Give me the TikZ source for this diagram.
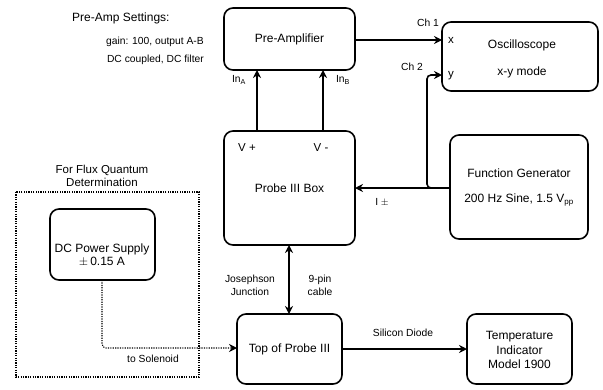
\documentclass[tikz,border=0pt]{standalone}
\usepackage{fontspec}
\setmainfont{Liberation Sans}
\usetikzlibrary{arrows.meta}
\begin{document}
\begin{tikzpicture}[x=1pt,y=-1pt,
  box/.style={draw,line width=1.6pt,rounded corners=9pt},
  conn/.style={line width=1.6pt,-{Stealth[length=8pt,width=8pt]}},
  dots/.style={line width=1.1pt,dash pattern=on 1.2pt off 1.2pt},
  lbl/.style={font=\fontsize{10.3}{13}\selectfont,align=center,inner sep=0pt},
  txt/.style={font=\fontsize{12}{14}\selectfont,align=center,inner sep=0pt}]
\useasboundingbox (0,0) rectangle (603,389);
% boxes
\draw[box] (224,8) rectangle (355,70);
\node[txt] (pre) at (289.5,39) {Pre-Amplifier};
\coordinate (preA) at (257,70);
\coordinate (preB) at (323,70);
\draw[box] (442,22) rectangle (598,91);
\node[txt] (osc1) at (522,45) {Oscilloscope};
\node[txt] (osc2) at (522,72) {x-y mode};
\coordinate (oscX) at (442,40);
\coordinate (oscY) at (442,75);
\node[lbl,font=\fontsize{11.5}{13}\selectfont] (xl) at (451,40) {x};
\node[lbl,font=\fontsize{11.5}{13}\selectfont] (yl) at (451,76) {y};
\draw[box] (224,131) rectangle (355,245);
\node[txt] (pb) at (289.5,188) {Probe III Box};
\node[lbl,font=\fontsize{11.5}{13}\selectfont] (vp) at (247,148) {V +};
\node[lbl,font=\fontsize{11.5}{13}\selectfont] (vm) at (321,148) {V -};
\draw[box] (450,135) rectangle (588,239);
\node[txt] (fg1) at (519,173) {Function Generator};
\node[txt] (fg2) at (519,200) {200 Hz Sine, 1.5 V\textsubscript{pp}};
\draw[dots] (16,192) rectangle (199,377);
\node[txt,font=\fontsize{11.5}{13.5}\selectfont] (flux) at (102,176) {For Flux Quantum\\Determination};
\draw[box] (50,209) rectangle (155,280);
\node[txt,font=\fontsize{12}{13.5}\selectfont] (dc) at (102,255) {DC Power Supply\\$\pm$\,0.15 A};
\draw[box] (237,314) rectangle (342,384);
\node[txt] (top) at (289.5,349) {Top of Probe III};
\draw[box] (467,314) rectangle (572,384);
\node[txt,font=\fontsize{12}{14.5}\selectfont] (ti) at (519.5,350) {Temperature\\Indicator\\Model 1900};
% free text
\node[font=\fontsize{12}{14}\selectfont,anchor=west,inner sep=0pt] (pas) at (72,18) {Pre-Amp Settings:};
\node[lbl,anchor=east] (g) at (204,42) {gain: 100, output A-B};
\node[lbl,anchor=east] (dcc) at (204,60) {DC coupled, DC filter};
% connectors
\draw[conn] (355,40) -- (oscX);
\node[lbl] (ch1) at (428,23) {Ch 1};
\draw[conn,rounded corners=4pt] (450,188) -- (427,188) -- (427,75) -- (oscY);
\node[lbl] (ch2) at (412,67) {Ch 2};
\draw[conn] (450,188) -- (355,188);
\node[lbl] (ipm) at (382,202) {I $\pm$};
\draw[conn] (257,131) -- (preA);
\draw[conn] (323,131) -- (preB);
\node[lbl] (ina) at (239,80) {In\textsubscript{A}};
\node[lbl] (inb) at (343,80) {In\textsubscript{B}};
\draw[line width=1.6pt,{Stealth[length=8pt,width=8pt]}-{Stealth[length=8pt,width=8pt]}] (289,245) -- (289,314);
\node[lbl] (jj) at (250,285) {Josephson\\Junction};
\node[lbl] (pin) at (320,285) {9-pin\\cable};
\draw[dots,rounded corners=4pt,-{Stealth[length=8pt,width=8pt]}] (102,280) -- (102,348) -- (237,348);
\node[lbl] (sol) at (153,359) {to Solenoid};
\draw[conn] (342,349) -- (467,349);
\node[lbl] (sd) at (403,333) {Silicon Diode};
\end{tikzpicture}
\end{document}
